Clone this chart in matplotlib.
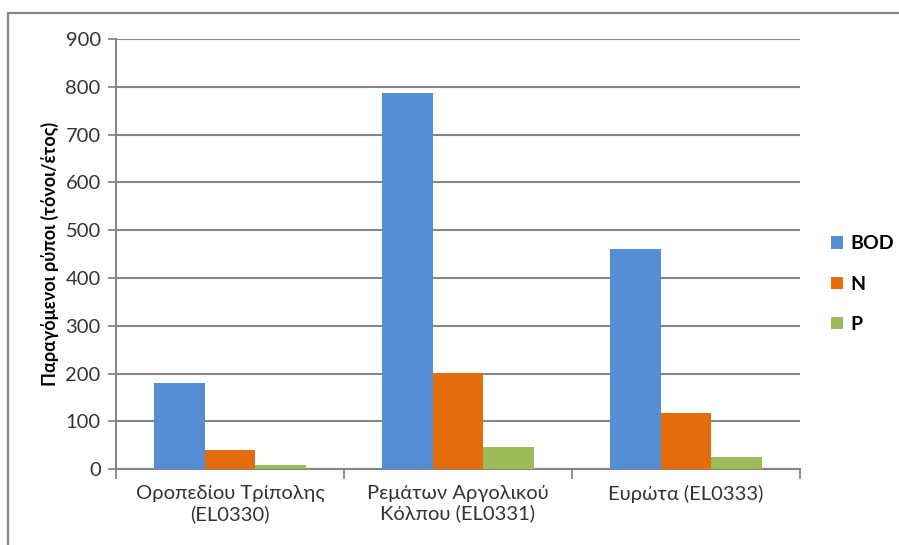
import matplotlib
matplotlib.use('Agg')
import matplotlib.pyplot as plt
import numpy as np
from matplotlib.patches import Rectangle

# data
categories = ['Οροπεδίου Τρίπολης\n(EL0330)', 'Ρεμάτων Αργολικού\nΚόλπου (EL0331)', 'Ευρώτα (EL0333)']
series_names = ['BOD', 'N', 'P']
bod = [181, 787, 460]
n_vals = [41, 201, 117]
p_vals = [9, 47, 26]
colors = ['#558ED5', '#E46C0A', '#9BBB59']
y_ticks = [0, 100, 200, 300, 400, 500, 600, 700, 800, 900]

plt.rcParams['font.family'] = ['Lato', 'DejaVu Sans']
grey = '#868686'

fig = plt.figure(figsize=(8.99, 5.45), dpi=100)
ax = fig.add_axes([116 / 899, 1 - 469.3 / 545, (800 - 116) / 899, (469.3 - 39) / 545])

x = np.arange(len(categories))
w = 2 / 9
for i, (vals, c) in enumerate(zip([bod, n_vals, p_vals], colors)):
    ax.bar(x + (i - 1) * w, vals, width=w, color=c, label=series_names[i], zorder=3)

ax.set_xlim(-0.5, 2.5)
ax.set_ylim(0, 900)
ax.set_yticks(y_ticks)
ax.tick_params(axis='y', labelsize=14.5, length=6, width=1.3, color=grey, pad=5, labelcolor='#333333')
ax.yaxis.grid(True, color=grey, linewidth=1.5, zorder=0)

# category labels centered, tick marks between categories
ax.set_xticks(x)
ax.set_xticklabels(categories, fontsize=14.5, linespacing=1.2, color='#333333')
ax.tick_params(axis='x', length=0, pad=11)
ax.set_xticks(np.arange(-0.5, 3, 1), minor=True)
ax.tick_params(axis='x', which='minor', length=7, width=1.3, color=grey)

for s in ['top', 'right']:
    ax.spines[s].set_visible(False)
for s in ['left', 'bottom']:
    ax.spines[s].set_color(grey)
    ax.spines[s].set_linewidth(1.5)

ax.set_ylabel('Παραγόμενοι ρύποι (τόνοι/έτος)', fontsize=13, fontweight='bold', labelpad=5)

ax.legend(loc='center left', bbox_to_anchor=(1.02, 0.43), frameon=False,
          prop={'size': 14, 'weight': 'bold'}, handlelength=0.6, handleheight=0.6,
          handletextpad=0.4, labelspacing=1.2)

# outer chart frame
fig.patches.append(Rectangle((8 / 899, -0.1), 1.2, 1 - 13 / 545 + 0.1, transform=fig.transFigure,
                             fill=False, edgecolor=grey, linewidth=1.6))

fig.savefig('out.png', dpi=100)
